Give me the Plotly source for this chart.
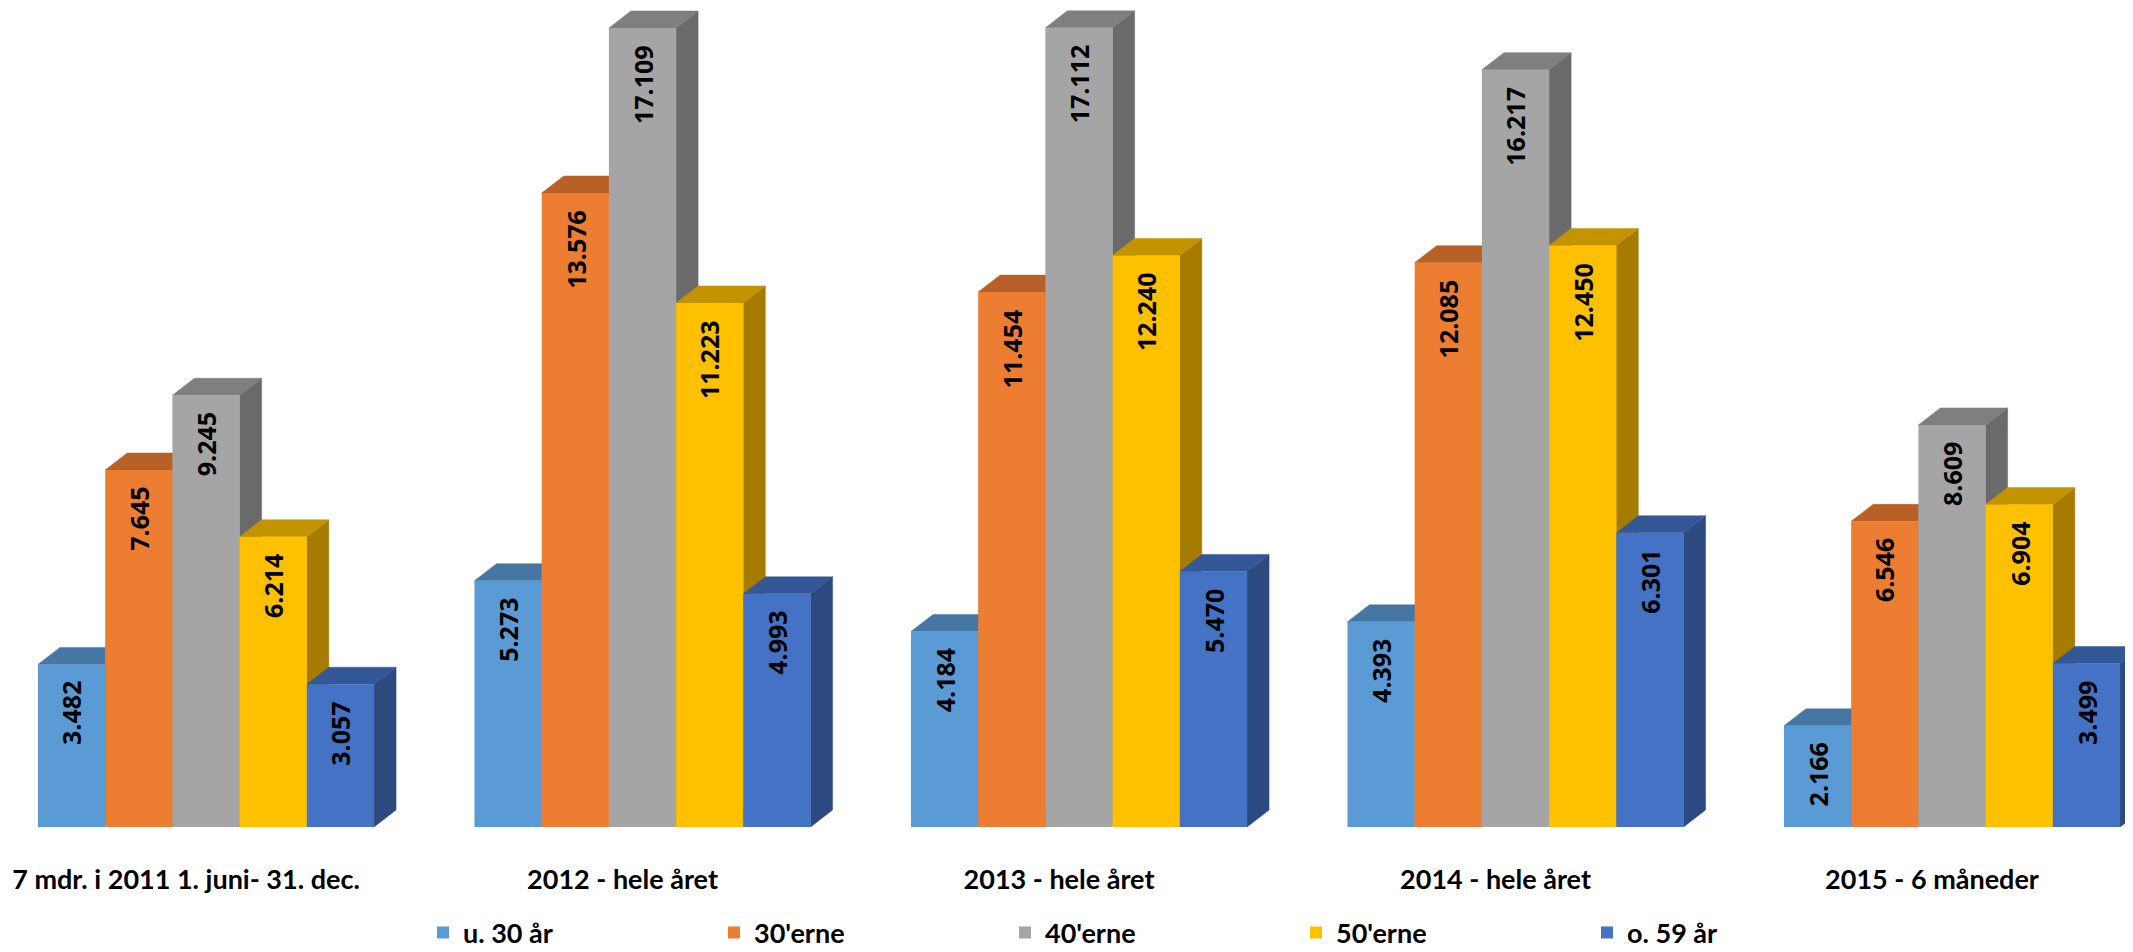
import plotly.graph_objects as go

# ---------------- data ----------------
categories = ["7 mdr. i 2011 1. juni- 31. dec.", "2012 - hele året", "2013 - hele året",
              "2014 - hele året", "2015 - 6 måneder"]
series_names = ["u. 30 år", "30'erne", "40'erne", "50'erne", "o. 59 år"]
u30 = [3482, 5273, 4184, 4393, 2166]
s30 = [7645, 13576, 11454, 12085, 6546]
s40 = [9245, 17109, 17112, 16217, 8609]
s50 = [6214, 11223, 12240, 12450, 6904]
o59 = [3057, 4993, 5470, 6301, 3499]
series_values = [u30, s30, s40, s50, o59]

# ---------------- styles ----------------
front_colors = ["#5B9BD5", "#ED7D31", "#A5A5A5", "#FFC000", "#4472C4"]
top_colors = ["#4677A4", "#B86026", "#7F7F7F", "#C49300", "#345897"]
side_colors = ["#3D6890", "#A0541F", "#6A6A6A", "#A67C00", "#2C4A7F"]

# the page body adds an 8px offset; figure is sized so it fills the window
W, H = 2125, 944
M_L, M_R, M_T, M_B = 0, 0, 0, 125
PX_PER_CAT = 436.5
PX_PER_UNIT = 0.0467
X0 = -198 / PX_PER_CAT
X1 = X0 + (W - M_L - M_R) / PX_PER_CAT
Y1 = (H - M_T - M_B) / PX_PER_UNIT

GROUP_W = 0.77
BAR_W = GROUP_W / 5
DX = 22 / PX_PER_CAT
DY = 17 / PX_PER_UNIT

def fmt(v):
    return f"{v:,}".replace(",", ".")

xs = list(range(len(categories)))
fig = go.Figure()
shapes = []
annotations = []

for j, (name, vals) in enumerate(zip(series_names, series_values)):
    off = -GROUP_W / 2 + j * BAR_W
    fig.add_trace(go.Bar(
        x=xs, y=vals, name=name, width=BAR_W, offset=off,
        marker=dict(color=front_colors[j], line=dict(width=0)),
        hoverinfo="skip",
    ))

for g in xs:
    for j, vals in enumerate(series_values):
        v = vals[g]
        L = g - GROUP_W / 2 + j * BAR_W
        R = L + BAR_W
        side = f"M {R},0 L {R},{v} L {R+DX},{v+DY} L {R+DX},{DY} Z"
        top = f"M {L},{v} L {R},{v} L {R+DX},{v+DY} L {L+DX},{v+DY} Z"
        shapes.append(dict(type="path", path=side, xref="x", yref="y", layer="below",
                           fillcolor=side_colors[j], line=dict(color=side_colors[j], width=0.5)))
        shapes.append(dict(type="path", path=top, xref="x", yref="y", layer="below",
                           fillcolor=top_colors[j], line=dict(color=top_colors[j], width=0.5)))
        annotations.append(dict(
            x=L + BAR_W / 2, y=v, xref="x", yref="y", text=fmt(v), textangle=-90,
            showarrow=False, xanchor="center", yanchor="top", yshift=-15,
            font=dict(family="Open Sans", size=25, color="#000000", weight="bold"),
        ))

fig.update_layout(
    width=W, height=H,
    margin=dict(l=M_L, r=M_R, t=M_T, b=M_B),
    paper_bgcolor="white", plot_bgcolor="white",
    barmode="overlay",
    shapes=shapes, annotations=annotations,
    xaxis=dict(range=[X0, X1], tickvals=xs, ticktext=categories, showgrid=False,
               zeroline=False, showline=False, ticks="", ticklabelshift=-20,
               ticklabelstandoff=34,
               tickfont=dict(family="Lato", size=27, color="#000000", weight="bold")),
    yaxis=dict(range=[0, Y1], visible=False),
    legend=dict(orientation="h", xref="container", yref="container",
                x=415 / W, y=(H - 925) / H, xanchor="left", yanchor="middle",
                entrywidth=246, entrywidthmode="pixels",
                font=dict(family="Lato", size=27, color="#000000", weight="bold"),
                bgcolor="rgba(0,0,0,0)"),
    showlegend=True,
)

fig.write_html("out.html")
